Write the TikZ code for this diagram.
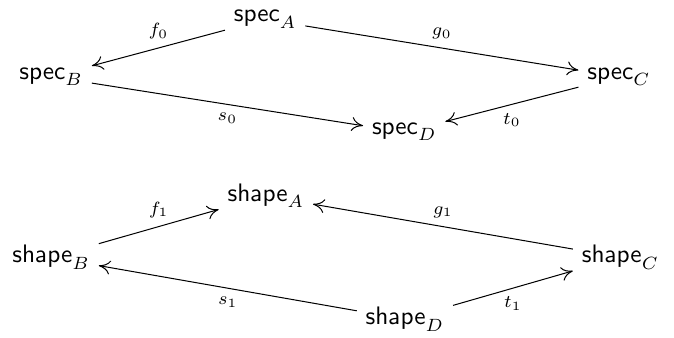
\documentclass[tikz,border=0pt]{standalone}
\usetikzlibrary{arrows.meta}
\begin{document}
\begin{tikzpicture}[x=1cm,y=1cm,
  >={To[length=4.5pt,width=5.5pt]},
  obj/.style={anchor=base},
  lbl/.style={font=\scriptsize}]
\useasboundingbox (0,0) rectangle (9.355,-4.678);
% spec square
\node[obj] (specA) at (3.68,-0.305) {$\mathsf{spec}_A$};
\node[obj] (specB) at (0.71,-1.10) {$\mathsf{spec}_B$};
\node[obj] (specC) at (8.59,-1.10) {$\mathsf{spec}_C$};
\node[obj] (specD) at (5.61,-1.87) {$\mathsf{spec}_D$};
\draw[->] (specA) -- node[lbl, above] {$f_0$} (specB);
\draw[->] (specA) -- node[lbl, above] {$g_0$} (specC);
\draw[->] (specB) -- node[lbl, below] {$s_0$} (specD);
\draw[->] (specC) -- node[lbl, below] {$t_0$} (specD);
% shape square
\node[obj] (shapeA) at (3.69,-2.80) {$\mathsf{shape}_A$};
\node[obj] (shapeB) at (0.71,-3.65) {$\mathsf{shape}_B$};
\node[obj] (shapeC) at (8.61,-3.65) {$\mathsf{shape}_C$};
\node[obj] (shapeD) at (5.62,-4.51) {$\mathsf{shape}_D$};
\draw[->] (shapeB) -- node[lbl, above] {$f_1$} (shapeA);
\draw[->] (shapeC) -- node[lbl, above] {$g_1$} (shapeA);
\draw[->] (shapeD) -- node[lbl, below] {$s_1$} (shapeB);
\draw[->] (shapeD) -- node[lbl, below] {$t_1$} (shapeC);
\end{tikzpicture}
\end{document}
